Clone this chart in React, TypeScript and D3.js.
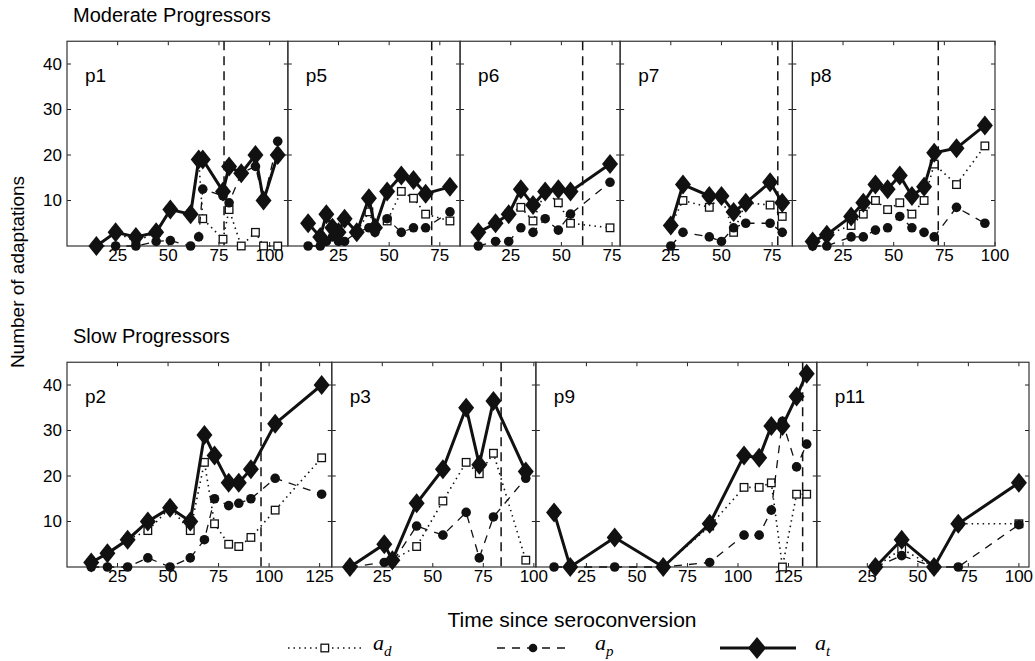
import React from 'react';
import * as d3 from 'd3';

// Moderate progressors: time since seroconversion and adaptation counts
const p1Time = [14.5, 24, 34, 44, 51, 61, 65, 67, 77, 80, 86, 93, 97, 104];
const p1Ad = [0, 3, 1, 3, 8, 7, 19, 6, 1.5, 8, 0, 3, 0, 0];
const p1Ap = [0, 0, 0, 1, 1.2, 0, 2, 12.5, 11, 9.5, 16, 17.5, 10, 23];
const p1At = [0, 3, 2, 3, 8, 7, 19, 19, 12, 17.5, 16, 20, 10, 20];

const p5Time = [10, 16, 19, 22, 25, 28, 34, 40, 43, 49, 56, 62, 68, 80];
const p5Ad = [5, 2, 7, 4, 3, 6, 3, 7.5, 4, 5.5, 12, 10.5, 7, 5.5];
const p5Ap = [0, 0, 1, 2, 1, 1, 3, 4, 3, 6, 3, 4, 4, 7.5];
const p5At = [5, 2, 7, 4, 3, 6, 3, 10.5, 4, 12, 15.5, 14.5, 11.5, 13];

const p6Time = [9, 17.5, 24, 30, 36, 42, 48.5, 54.5, 74];
const p6Ad = [3, 5, 7, 8.5, 5.5, 12, 9.5, 5, 4];
const p6Ap = [0, 1, 1, 4, 3, 6, 3.5, 7, 14];
const p6At = [3, 5, 7, 12.5, 9, 12, 12.5, 12, 18];

const p7Time = [25, 31, 44, 50, 56, 62, 74, 80];
const p7Ad = [4.5, 10, 8.5, 11, 3, 9.5, 9, 6.5];
const p7Ap = [0, 3, 2, 1, 4, 5, 5, 3];
const p7At = [4.5, 13.5, 11, 11, 7.5, 9.5, 14, 9.5];

const p8Time = [10, 17, 29, 35, 41, 47, 53, 59, 65, 70, 81, 95];
const p8Ad = [1, 2.5, 4.5, 7, 10, 8, 9.5, 7, 10, 18, 13.5, 22];
const p8Ap = [0, 0, 2, 2, 3.5, 4, 6.5, 4, 3, 2, 8.5, 5];
const p8At = [1, 2.5, 6.5, 9.5, 13.5, 12.5, 15.5, 11, 13, 20.5, 21.5, 26.5];

// Slow progressors
const p2Time = [12, 20, 30, 40, 51, 61, 68, 73, 80, 85, 91, 103, 126];
const p2Ad = [1, 3, 6, 8, 13, 8, 23, 9.5, 5, 4.5, 6.5, 12.5, 24];
const p2Ap = [0, 0, 0, 2, 0, 2, 6, 15, 13.5, 14, 15, 19.5, 16];
const p2At = [1, 3, 6, 10, 13, 10, 29, 24.5, 18.5, 18.5, 21.5, 31.5, 40];

const p3Time = [9, 26, 30, 42, 55, 66.5, 73, 80, 96];
const p3Ad = [0, 5, 1.5, 4.5, 14.5, 23, 20.5, 25, 1.5];
const p3Ap = [0, 1, 1, 9, 7, 12, 2, 11, 19.5];
const p3At = [0, 5, 1.5, 14, 21.5, 35, 22.5, 36.5, 21];

const p9Time = [9, 17, 39, 63, 86, 103, 110.5, 116.5, 122, 129, 134];
const p9Ad = [12, 0, 6.5, 0, 9, 17.5, 17.5, 18.5, 0, 16, 16];
const p9Ap = [0, 0, 0, 0, 1, 7, 7, 12.5, 32, 22, 27];
const p9At = [12, 0, 6.5, 0, 9.5, 24.5, 24, 31, 31, 37.5, 42.5];

const p11Time = [29, 42, 58, 70, 100];
const p11Ad = [0, 4, 0, 9.5, 9.5];
const p11Ap = [0, 2.5, 0, 0, 9.3];
const p11At = [0, 6, 0, 9.5, 18.5];

// panel spans (time units) and seroconversion-to-AIDS marker
const moderateNames = ['p1', 'p5', 'p6', 'p7', 'p8'];
const moderateSpan = [109, 85, 79, 85, 100];
const moderateMark = [77.5, 71, 60.5, 77.8, 72];

const slowNames = ['p2', 'p3', 'p9', 'p11'];
const slowSpan = [131, 101, 139, 105];
const slowMark = [96, 83.8, 132, null];

const xTicks = [25, 50, 75, 100, 125];
const yTicks = [10, 20, 30, 40];

const moderate = [
  { time: p1Time, ad: p1Ad, ap: p1Ap, at: p1At },
  { time: p5Time, ad: p5Ad, ap: p5Ap, at: p5At },
  { time: p6Time, ad: p6Ad, ap: p6Ap, at: p6At },
  { time: p7Time, ad: p7Ad, ap: p7Ap, at: p7At },
  { time: p8Time, ad: p8Ad, ap: p8Ap, at: p8At },
];
const slow = [
  { time: p2Time, ad: p2Ad, ap: p2Ap, at: p2At },
  { time: p3Time, ad: p3Ad, ap: p3Ap, at: p3At },
  { time: p9Time, ad: p9Ad, ap: p9Ap, at: p9At },
  { time: p11Time, ad: p11Ad, ap: p11Ap, at: p11At },
];

const SANS = '"Liberation Sans", Arial, Helvetica, sans-serif';
const SERIF = '"Liberation Serif", "Times New Roman", serif';

const diamond = (w: number, h: number) => `M0,${-h}L${w},0L0,${h}L${-w},0Z`;

const Panel = ({ name, series, span, mark, x0, x1, y }) => {
  const x = d3.scaleLinear().domain([0, span]).range([x0, x1]);
  const [yb, yt] = y.range();
  const pts = (vals) => series.time.map((t, i) => [t, vals[i]]);
  const line = d3.line()
    .defined((d) => d[1] != null)
    .x((d) => x(d[0]))
    .y((d) => y(d[1]));

  return (
    <g>
      {xTicks.filter((t) => t <= span).map((t) => (
        <g key={'x' + t}>
          <line x1={x(t)} x2={x(t)} y1={yb} y2={yb - 4} stroke="#222" />
          <line x1={x(t)} x2={x(t)} y1={yt} y2={yt + 4} stroke="#222" />
          <text x={x(t)} y={yb + 14.5} textAnchor="middle" fontSize={17} fontFamily={SANS}>{t}</text>
        </g>
      ))}
      {yTicks.map((v) => (
        <g key={'y' + v}>
          <line x1={x0} x2={x0 + 4} y1={y(v)} y2={y(v)} stroke="#222" />
          <line x1={x1} x2={x1 - 4} y1={y(v)} y2={y(v)} stroke="#222" />
        </g>
      ))}
      <rect x={x0} y={yt} width={x1 - x0} height={yb - yt} fill="none" stroke="#333" strokeWidth={1.2} />
      {mark != null && (
        <line x1={x(mark)} x2={x(mark)} y1={yt} y2={yb} stroke="#111" strokeWidth={1.5} strokeDasharray="9,6" />
      )}
      <text x={x0 + 18} y={yt + 41} fontSize={19} fontFamily={SANS}>{name}</text>

      <path d={line(pts(series.ad))} fill="none" stroke="#111" strokeWidth={1.6} strokeDasharray="1.5,4" />
      {pts(series.ad).map((d, i) => (
        <rect key={'d' + i} x={x(d[0]) - 3.8} y={y(d[1]) - 3.8} width={7.6} height={7.6} fill="#fff" stroke="#111" strokeWidth={1.3} />
      ))}

      <path d={line(pts(series.ap))} fill="none" stroke="#111" strokeWidth={1.3} strokeDasharray="8,7" />
      {pts(series.ap).map((d, i) => (
        <circle key={'p' + i} cx={x(d[0])} cy={y(d[1])} r={4.8} fill="#111" />
      ))}

      <path d={line(pts(series.at))} fill="none" stroke="#111" strokeWidth={3} />
      {pts(series.at).map((d, i) => (
        <path key={'t' + i} d={diamond(8, 10)} transform={`translate(${x(d[0])},${y(d[1])})`} fill="#111" />
      ))}
    </g>
  );
};

const Row = ({ names, data, spans, marks, left, right, bottom, top, title }) => {
  const y = d3.scaleLinear().domain([0, 45]).range([bottom, top]);
  const total = d3.sum(spans);
  const px = d3.scaleLinear().domain([0, total]).range([left, right]);
  const starts = d3.cumsum([0, ...spans]);
  return (
    <g>
      <text x={73} y={top - 19} fontSize={20} fontFamily={SANS}>{title}</text>
      {yTicks.map((v) => (
        <text key={v} x={62} y={y(v)} textAnchor="end" dominantBaseline="central" fontSize={17} fontFamily={SANS}>{v}</text>
      ))}
      {data.map((s, i) => (
        <Panel key={names[i]} name={names[i]} series={s} span={spans[i]} mark={marks[i]}
          x0={px(starts[i])} x1={px(starts[i + 1])} y={y} />
      ))}
    </g>
  );
};

const Legend = () => {
  const ly = 648;
  return (
    <g fontFamily={SERIF} fontStyle="italic" fontSize={22}>
      <line x1={288} x2={362} y1={ly} y2={ly} stroke="#111" strokeWidth={1.6} strokeDasharray="1.5,4" />
      <rect x={321} y={ly - 3.8} width={7.6} height={7.6} fill="#fff" stroke="#111" strokeWidth={1.3} />
      <text x={373} y={ly + 2}>a<tspan fontSize={15} dy={6}>d</tspan></text>

      <line x1={497} x2={572} y1={ly} y2={ly} stroke="#111" strokeWidth={1.3} strokeDasharray="8,7" />
      <circle cx={533} cy={ly} r={4.3} fill="#111" />
      <text x={595} y={ly + 2}>a<tspan fontSize={15} dy={6}>p</tspan></text>

      <line x1={720} x2={796} y1={ly} y2={ly} stroke="#111" strokeWidth={3} />
      <path d={diamond(9, 11)} transform={`translate(757,${ly})`} fill="#111" />
      <text x={815} y={ly + 2}>a<tspan fontSize={15} dy={6}>t</tspan></text>
    </g>
  );
};

export default function App() {
  return (
    <svg width={1035} height={661} style={{ position: 'absolute', left: 0, top: 0, background: '#fff' }}>
      <Row names={moderateNames} data={moderate} spans={moderateSpan} marks={moderateMark}
        left={67} right={995} bottom={246} top={41.25} title="Moderate Progressors" />
      <Row names={slowNames} data={slow} spans={slowSpan} marks={slowMark}
        left={67} right={1029} bottom={567} top={362.25} title="Slow Progressors" />
      <text transform="translate(24,272) rotate(-90)" textAnchor="middle" fontSize={19} fontFamily={SANS}>
        Number of adaptations
      </text>
      <text x={572} y={627} textAnchor="middle" fontSize={21} fontFamily={SANS}>Time since seroconversion</text>
      <Legend />
    </svg>
  );
}
